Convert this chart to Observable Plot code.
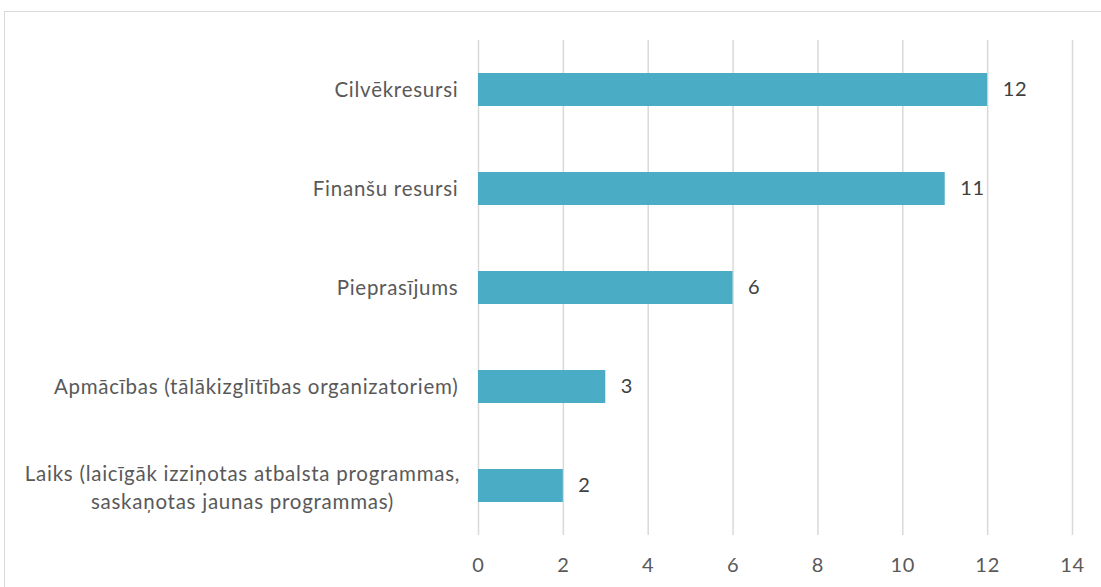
<!DOCTYPE html>
<html><head><meta charset="utf-8">
<script src="https://cdn.jsdelivr.net/npm/d3@7"></script>
<script src="https://cdn.jsdelivr.net/npm/@observablehq/plot@0.6"></script>
<style>
html,body{margin:0;padding:0;background:#fff;}
#wrap{position:relative;width:1101px;height:587px;overflow:hidden;}
#frame{position:absolute;left:4px;top:11px;width:1200px;height:700px;border:1.5px solid #d9d9d9;box-sizing:border-box;}
#chart{position:absolute;left:0;top:0;}
#chart svg text{letter-spacing:0.75px;}
</style></head>
<body><div id="wrap"><div id="frame"></div><div id="chart"></div></div>
<script>
const categories = [
  "Cilvēkresursi",
  "Finanšu resursi",
  "Pieprasījums",
  "Apmācības (tālākizglītības organizatoriem)",
  "Laiks (laicīgāk izziņotas atbalsta programmas,\nsaskaņotas jaunas programmas)"
];
const values = [12, 11, 6, 3, 2];
const xTicks = [0, 2, 4, 6, 8, 10, 12, 14];

const data = categories.map((c, i) => ({cat: c, value: values[i]}));
const single = data.filter(d => !d.cat.includes("\n"));
const multi = data.filter(d => d.cat.includes("\n"));
const font = "Lato, 'Open Sans', sans-serif";

const chart = Plot.plot({
  width: 1101,
  height: 587,
  marginLeft: 478,
  marginRight: 29,
  marginTop: 40,
  marginBottom: 52,
  style: {fontFamily: font, fontSize: "20px", color: "#595959", background: "transparent"},
  x: {domain: [0, 14], ticks: xTicks, label: null},
  y: {domain: categories, paddingInner: 0.667, paddingOuter: 0.333, axis: null},
  marks: [
    Plot.gridX(xTicks, {stroke: "#d9d9d9", strokeOpacity: 1, strokeWidth: 1.5}),
    Plot.axisX(xTicks, {tickSize: 0, tickPadding: 22, fontSize: 20, fill: "#595959", label: null, tickFormat: d => String(d)}),
    Plot.barX(data, {x: "value", y: "cat", fill: "#4BACC6"}),
    Plot.text(data, {x: "value", y: "cat", text: d => String(d.value), textAnchor: "start", dx: 15, fill: "#404040", fontSize: 20}),
    Plot.text(single, {x: 0, y: "cat", text: "cat", textAnchor: "end", dx: -20, fill: "#595959", fontSize: 20.5}),
    Plot.text(multi, {x: 0, y: "cat", text: "cat", textAnchor: "middle", dx: -236, fill: "#595959", fontSize: 20.5, lineHeight: 1.35})
  ]
});
document.getElementById("chart").appendChild(chart);
</script></body></html>
